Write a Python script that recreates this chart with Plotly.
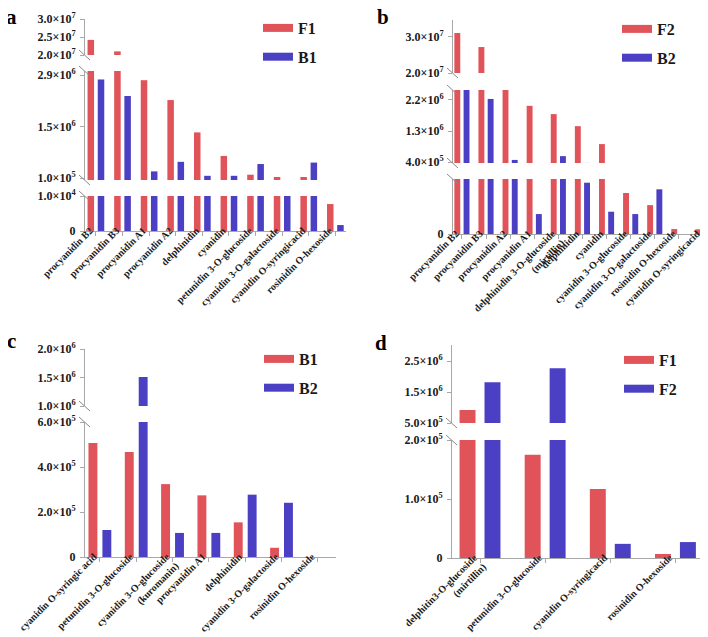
import math
import plotly.graph_objects as go

W, H = 708, 637
RED = "#E05358"
BLUE = "#4B40C4"
AXC = "#A8A8A8"
TXT = "#1a1a1a"
FONT = "Liberation Serif"

# ---------------- data ----------------
a_categories = ["procyanidin B2", "procyanidin B3", "procyanidin A1", "procyanidin A2",
                "delphinidin", "cyanidin", "petunidin 3-O-glucoside",
                "cyanidin 3-O-galactoside", "cyanidin O-syringicacid", "rosinidin O-hexoside"]
a_F1 = [2.42e7, 2.10e7, 2.76e6, 2.22e6, 1.34e6, 0.70e6, 0.19e6, 0.127e6, 0.127e6, 7.7e3]
a_B1 = [2.78e6, 2.33e6, 0.28e6, 0.54e6, 0.16e6, 0.16e6, 0.48e6, 3.0e4, 0.52e6, 1.7e3]
a_ticks = [[2e7, 2.5e7, 3e7], [1e5, 1.5e6, 2.9e6], [0, 1e4]]

b_categories = ["procyanidin B2", "procyanidin B3", "procyanidin A2", "procyanidin A1",
                "delphinidin 3-O-glucoside<br>(mirtillin)", "delphinidin", "cyanidin",
                "cyanidin 3-O-glucoside", "cyanidin 3-O-galactoside",
                "rosinidin O-hexoside", "cyanidin O-syringicacid"]
b_F2 = [3.11e7, 2.72e7, 2.6e6, 2.03e6, 1.79e6, 1.44e6, 0.92e6, 2.98e5, 2.10e5, 0.36e5, 0.34e5]
b_B2 = [2.6e6, 2.23e6, 0.46e6, 1.45e5, 0.57e6, 3.73e5, 1.62e5, 1.45e5, 3.25e5, 0, 1.65e5]
b_ticks = [[2e7, 3e7], [4e5, 1.3e6, 2.2e6], [0]]

c_categories = ["cyanidin O-syringic acid", "petunidin 3-O-glucoside",
                "cyanidin 3-O-glucoside<br>(kuromanin)", "procyanidin A1", "delphinidin",
                "cyanidin 3-O-galactoside", "rosinidin O-hexoside"]
c_B1 = [5.07e5, 4.67e5, 3.24e5, 2.74e5, 1.54e5, 0.41e5, 0]
c_B2 = [1.20e5, 1.51e6, 1.07e5, 1.07e5, 2.77e5, 2.41e5, 0]
c_ticks = [[1e6, 1.5e6, 2e6], [0, 2e5, 4e5, 6e5]]

d_categories = ["delphitin3-O-glucoside<br>(mirtillin)", "petunidin 3-O-glucoside",
                "cyanidin O-syringicacid", "rosinidin O-hexoside"]
d_F1 = [0.92e6, 1.75e5, 1.17e5, 6.8e3]
d_F2 = [1.82e6, 2.27e6, 0.24e5, 0.27e5]
d_ticks = [[5e5, 1.5e6, 2.5e6], [0, 1e5, 2e5]]


def px(x):
    return x / W


def py(y):
    return 1 - y / H


def sci(v):
    if v == 0:
        return "0"
    e = int(math.floor(math.log10(abs(v)) + 1e-9))
    m = v / 10 ** e
    return f"{m:.1f}×10<sup>{e}</sup>"


# layout geometry (pixels): x domain, x range padding, segments (top px, bottom px, range)
panels = [
    dict(letter="a", cats=a_categories,
         series=[("F1", a_F1, RED), ("B1", a_B1, BLUE)],
         xdom=(77, 338), xpad=(0.41, 0.4), letter_pos=(10, 21), legend_pos=(250, 3),
         segs=[(11, 47, (2e7, 3e7), a_ticks[0]),
               (63, 172, (0.046e6, 3.01e6), a_ticks[1]),
               (188, 223, (0, 1e4), a_ticks[2])]),
    dict(letter="b", cats=b_categories,
         series=[("F2", b_F2, RED), ("B2", b_B2, BLUE)],
         xdom=(445, 707), xpad=(0.37, 0.5), letter_pos=(382, 21), legend_pos=(609, 4),
         segs=[(12, 65, (2e7, 3.47e7), b_ticks[0]),
               (82, 155, (0.371e6, 2.49e6), b_ticks[1]),
               (171, 226, (0, 4e5), b_ticks[2])]),
    dict(letter="c", cats=c_categories,
         series=[("B1", c_B1, RED), ("B2", c_B2, BLUE)],
         xdom=(77, 328), xpad=(0.41, 0.5), letter_pos=(10, 345), legend_pos=(251, 334),
         segs=[(341, 398, (1e6, 2e6), c_ticks[0]),
               (414, 549, (0, 6e5), c_ticks[1])]),
    dict(letter="d", cats=d_categories,
         series=[("F1", d_F1, RED), ("F2", d_F2, BLUE)],
         xdom=(444, 700), xpad=(0.43, 0.5), letter_pos=(380, 347), legend_pos=(611, 335),
         segs=[(337, 415, (5e5, 3.02e6), d_ticks[0]),
               (432, 550, (0, 2e5), d_ticks[1])]),
]

fig = go.Figure()
layout = {}
shapes = []
annotations = []
yidx = 0
tickfont = dict(family=FONT, size=12, color=TXT, weight="bold")

for pi, p in enumerate(panels):
    xi = pi + 1
    xname = "x" if xi == 1 else f"x{xi}"
    xkey = "xaxis" if xi == 1 else f"xaxis{xi}"
    legend_id = "legend" if xi == 1 else f"legend{xi}"
    nseg = len(p["segs"])
    bottom_yname = None
    for si, (top, bot, rng, tvals) in enumerate(p["segs"]):
        yidx += 1
        yname = "y" if yidx == 1 else f"y{yidx}"
        ykey = "yaxis" if yidx == 1 else f"yaxis{yidx}"
        layout[ykey] = dict(
            domain=[py(bot), py(top)], range=list(rng), anchor=xname,
            showline=True, linecolor=AXC, linewidth=1,
            ticks="outside", ticklen=4, tickcolor=AXC, tickwidth=1,
            tickvals=tvals, ticktext=[sci(v) for v in tvals],
            tickfont=tickfont, ticklabelstandoff=2,
            showgrid=False, zeroline=False,
            automargin=False, fixedrange=True,
        )
        for name, vals, col in p["series"]:
            fig.add_trace(go.Bar(x=p["cats"], y=vals, name=name, marker_color=col,
                                 marker_line_width=0, showlegend=False,
                                 xaxis=xname, yaxis=yname))
        if si == nseg - 1:
            bottom_yname = yname
        # break marks
        ax = p["xdom"][0]
        if si > 0:
            shapes.append(dict(type="line", xref="paper", yref="paper",
                               x0=px(ax - 6), x1=px(ax + 5), y0=py(top - 5), y1=py(top + 5),
                               line=dict(color="#8a8a8a", width=1)))
        if si < nseg - 1:
            shapes.append(dict(type="line", xref="paper", yref="paper",
                               x0=px(ax - 6), x1=px(ax + 5), y0=py(bot - 5), y1=py(bot + 5),
                               line=dict(color="#8a8a8a", width=1)))
    n = len(p["cats"])
    layout[xkey] = dict(
        domain=[px(p["xdom"][0]), px(p["xdom"][1])], anchor=bottom_yname,
        type="category", categoryorder="array", categoryarray=p["cats"],
        range=[-p["xpad"][0], n - 1 + p["xpad"][1]],
        showline=True, linecolor=AXC, linewidth=1,
        ticks="outside", ticklen=4, tickcolor=AXC,
        tickangle=-45, tickfont=dict(family=FONT, size=10, color=TXT, weight="bold"),
        ticklabelshift=-6, ticklabelstandoff=-15,
        showgrid=False, zeroline=False, automargin=False, fixedrange=True,
    )
    # legend entries
    for gi, (name, vals, col) in enumerate(p["series"]):
        fig.add_trace(go.Scatter(x=[None], y=[None], mode="lines", name=name,
                                 line=dict(color=col, width=8),
                                 legend=legend_id, legendgroup=f"{p['letter']}{gi}",
                                 xaxis=xname, yaxis=bottom_yname, hoverinfo="skip"))
    lx, ly = p["legend_pos"]
    layout[legend_id] = dict(
        x=px(lx), y=py(ly), xanchor="left", yanchor="top",
        bgcolor="rgba(0,0,0,0)", borderwidth=0, tracegroupgap=5,
        font=dict(family=FONT, size=16, color=TXT, weight="bold"),
        itemwidth=30, traceorder="grouped",
    )
    ltx, lty = p["letter_pos"]
    annotations.append(dict(text=p["letter"], xref="paper", yref="paper",
                            x=px(ltx), y=py(lty), xanchor="center", yanchor="bottom",
                            showarrow=False, xshift=-7, yshift=-1, borderpad=0,
                            font=dict(family=FONT, size=21, color="#000", weight="bold")))

fig.update_layout(
    width=W, height=H, margin=dict(l=0, r=0, t=0, b=0),
    template="none", paper_bgcolor="white", plot_bgcolor="white",
    barmode="group", bargap=0.234, bargroupgap=0.36,
    font=dict(family=FONT, color=TXT),
    shapes=shapes, annotations=annotations, showlegend=True,
    **layout,
)

fig.write_html("out.html")
